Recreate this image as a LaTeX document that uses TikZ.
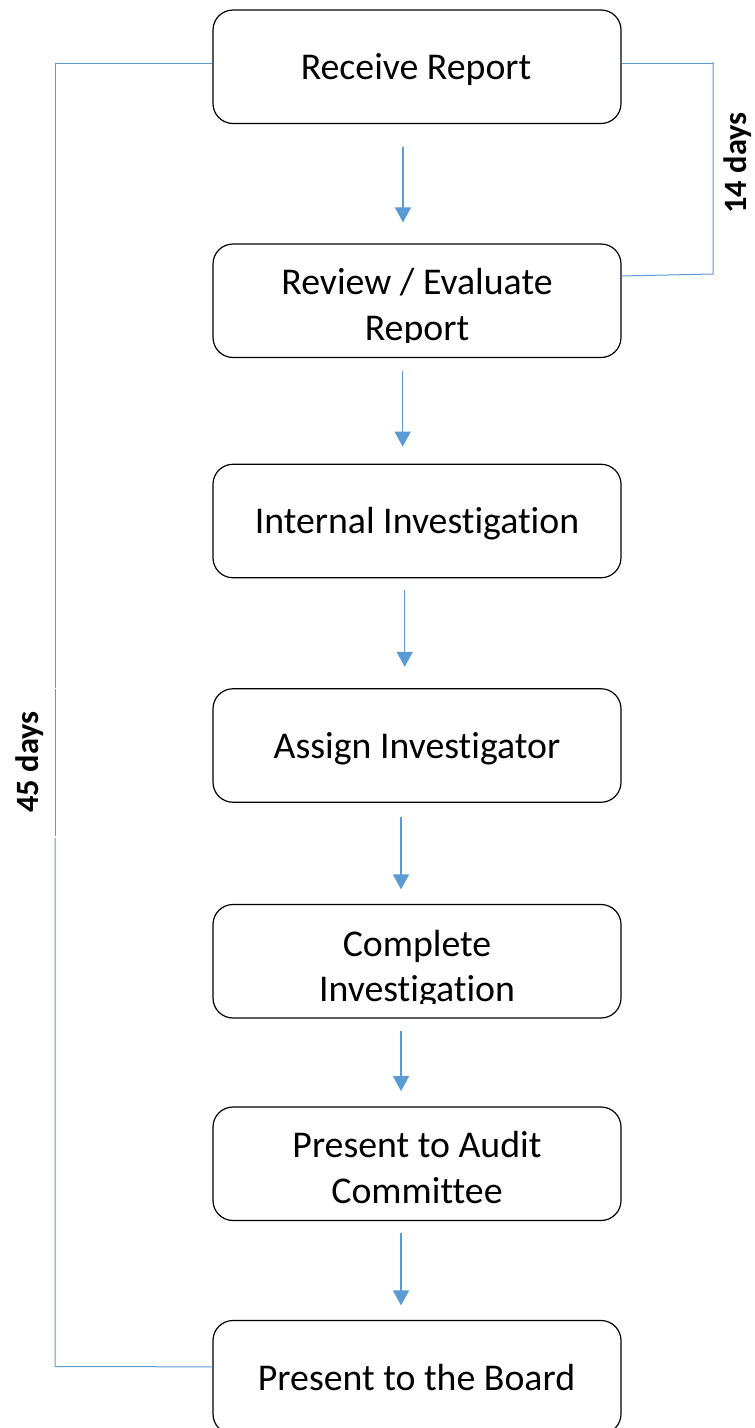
\documentclass[tikz,border=0pt]{standalone}
\usepackage{fontspec}
\setmainfont{Carlito}[Ligatures={NoCommon}]
\usetikzlibrary{arrows.meta}
\definecolor{flowblue}{HTML}{5B9BD5}
\begin{document}
\begin{tikzpicture}[x=1pt,y=-1pt,
  stepbox/.style={draw=black,line width=1.2pt,rounded corners=20pt,minimum width=408pt,minimum height=113.5pt,inner sep=0pt},
  txt/.style={anchor=base,inner sep=0pt,font=\fontsize{37.8}{45.75}\selectfont},
  lbl/.style={rotate=90,inner sep=0pt,font=\bfseries\fontsize{32.5}{38}\selectfont},
  arr/.style={draw=flowblue,line width=1.3pt,-{Triangle[width=16pt,length=15pt]},flowblue},
  brk/.style={draw=flowblue,line width=1pt}]
\useasboundingbox (0,0) rectangle (755,1428);
% boxes
\node[stepbox] (b1) at (417,66.75) {};
\node[stepbox] (b2) at (417,300.75) {};
\node[stepbox] (b3) at (417,521) {};
\node[stepbox] (b4) at (417,745.5) {};
\node[stepbox] (b5) at (417,961.25) {};
\node[stepbox] (b6) at (417,1163.75) {};
\node[stepbox] (b7) at (417,1377.25) {};
% texts
\node[txt] (t1) at (416,79) {Receive Report};
\node[txt] (t2a) at (417,294.5) {Review / Evaluate};
\begin{scope}
  \clip (b2.north west) rectangle ([yshift=15.5pt]b2.south east);
  \node[txt] (t2b) at (417,340) {Report};
\end{scope}
\node[txt] (t3) at (417,533) {Internal Investigation};
\node[txt] (t4) at (417,758) {Assign Investigator};
\node[txt] (t5a) at (417,956) {Complete};
\begin{scope}
  \clip (b5.north west) rectangle ([yshift=15.5pt]b5.south east);
  \node[txt] (t5b) at (417,1001.75) {Investigation};
\end{scope}
\node[txt] (t6a) at (417,1157) {Present to Audit};
\node[txt] (t6b) at (417,1203) {Committee};
\node[txt] (t7) at (416.5,1390) {Present to the Board};
% arrows
\draw[arr,shorten <=22.5pt,shorten >=21pt] ([xshift=-14pt]b1.south) -- ([xshift=-14pt]b2.north);
\draw[arr,shorten <=12.5pt,shorten >=17pt] ([xshift=-14.3pt]b2.south) -- ([xshift=-14.3pt]b3.north);
\draw[arr,shorten <=12pt,shorten >=21.3pt] ([xshift=-12.3pt]b3.south) -- ([xshift=-12.3pt]b4.north);
\draw[arr,shorten <=14pt,shorten >=14.5pt] ([xshift=-16pt]b4.south) -- ([xshift=-16pt]b5.north);
\draw[arr,shorten <=12.7pt,shorten >=15.3pt] ([xshift=-16pt]b5.south) -- ([xshift=-16pt]b6.north);
\draw[arr,shorten <=12.2pt,shorten >=14.5pt] ([xshift=-16pt]b6.south) -- ([xshift=-16pt]b7.north);
% left bracket (45 days)
\coordinate (lt) at (55,63.3);
\coordinate (lg1) at (55,687.5);
\coordinate (lg2) at (55,689);
\coordinate (lg3) at (55,836);
\coordinate (lg4) at (55,838);
\coordinate (lb) at (55,1366.7);
\draw[brk] ([yshift=3.45pt]b1.west) -- (lt) -- (lg1);
\draw[brk] (lg2) -- (lg3);
\draw[brk] (lg4) -- (lb) -- ([yshift=10.5pt]b7.west);
\node[lbl] (l45) at (30,762) {45 days};
% right bracket (14 days)
\coordinate (rtc) at (713,63.3);
\coordinate (rt) at (713,62);
\coordinate (rb) at (713,274);
\draw[brk] ([yshift=3.45pt]b1.east) -- (rtc);
\draw[brk] (rt) -- (rb) -- ([yshift=24.75pt]b2.east);
\node[lbl] (l14) at (738,163) {14 days};
\end{tikzpicture}
\end{document}
